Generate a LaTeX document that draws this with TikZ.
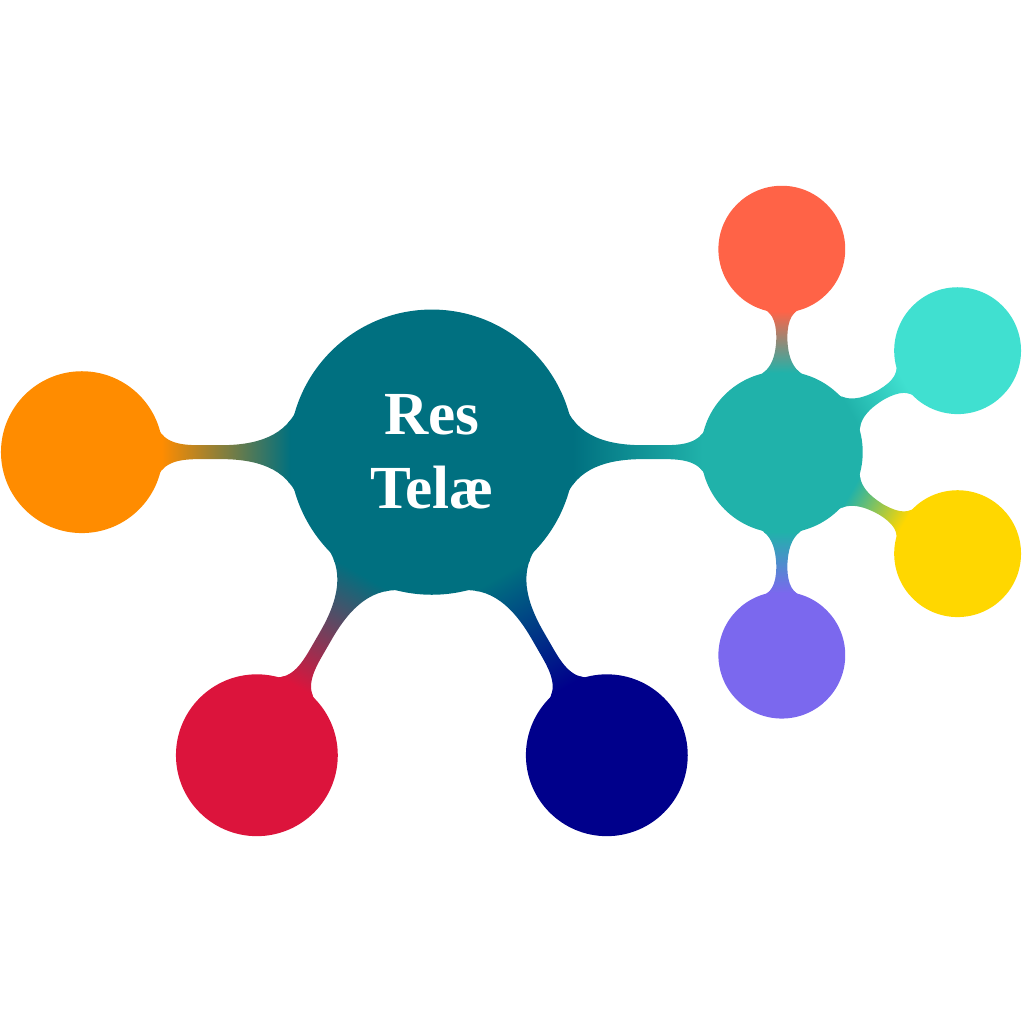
\documentclass[tikz,border=0pt]{standalone}
\usepackage{fontspec}
\setmainfont{Liberation Serif}
\usepackage{tikz}
\usetikzlibrary{mindmap}
\definecolor{rootteal}{RGB}{0,112,128}
\definecolor{hubteal}{RGB}{32,178,170}
\definecolor{leftorange}{RGB}{255,140,0}
\definecolor{lowcrimson}{RGB}{220,20,60}
\definecolor{lownavy}{RGB}{0,0,139}
\definecolor{toptomato}{RGB}{255,99,71}
\definecolor{sideturq}{RGB}{64,224,208}
\definecolor{sidegold}{RGB}{255,215,0}
\definecolor{lowslate}{RGB}{123,104,238}

\begin{document}
\begin{tikzpicture}[mindmap,
  bigconcept/.style={concept,minimum size=4cm,text width=3.6cm,font=\Huge,text=white},
  midconcept/.style={concept,minimum size=2.27cm,text width=2cm},
  smallconcept/.style={concept,minimum size=1.77cm,text width=1.5cm}]
  \useasboundingbox (-6.17,-8.17) rectangle (8.46,6.46);

  \node[bigconcept,concept color=rootteal] (root) at (0,0) {\textbf{Res}\\\textbf{Tel\ae}};
  \node[midconcept,concept color=leftorange] (orange) at (180:5) {};
  \node[midconcept,concept color=lowcrimson] (crimson) at (240:5) {};
  \node[midconcept,concept color=lownavy] (navy) at (300:5) {};
  \node[midconcept,concept color=hubteal] (hub) at (0:5) {};

  \node[smallconcept,concept color=toptomato] (tomato) at ([shift={(90:2.9)}]hub.center) {};
  \node[smallconcept,concept color=sideturq] (turq) at ([shift={(30:2.9)}]hub.center) {};
  \node[smallconcept,concept color=sidegold] (gold) at ([shift={(-30:2.9)}]hub.center) {};
  \node[smallconcept,concept color=lowslate] (slate) at ([shift={(-90:2.9)}]hub.center) {};

  \path (root) to[circle connection bar switch color=from (rootteal) to (leftorange)] (orange);
  \path (root) to[circle connection bar switch color=from (rootteal) to (lowcrimson)] (crimson);
  \path (root) to[circle connection bar switch color=from (rootteal) to (lownavy)] (navy);
  \path (root) to[circle connection bar switch color=from (rootteal) to (hubteal)] (hub);
  \path (hub) to[circle connection bar switch color=from (hubteal) to (toptomato)] (tomato);
  \path (hub) to[circle connection bar switch color=from (hubteal) to (sideturq)] (turq);
  \path (hub) to[circle connection bar switch color=from (hubteal) to (sidegold)] (gold);
  \path (hub) to[circle connection bar switch color=from (hubteal) to (lowslate)] (slate);
\end{tikzpicture}
\end{document}
